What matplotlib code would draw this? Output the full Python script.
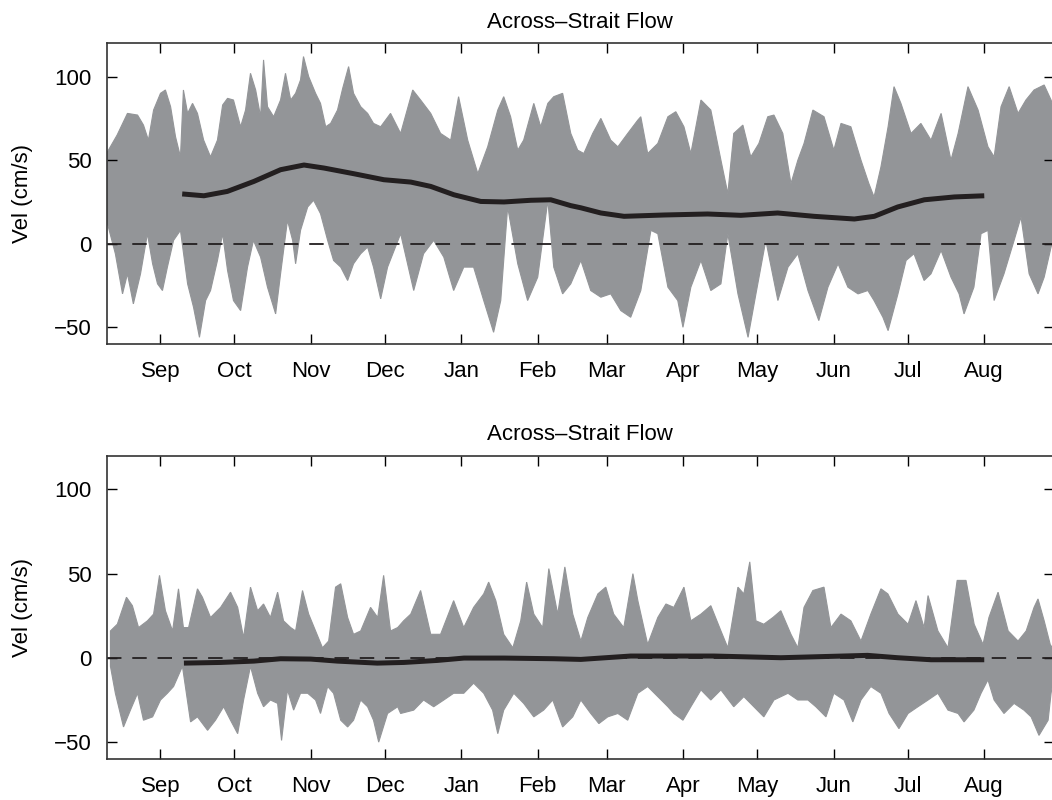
import datetime as dt
import matplotlib
matplotlib.use('Agg')
import matplotlib.pyplot as plt
import matplotlib.dates as mdates

plt.rcParams['font.family'] = ['Liberation Sans', 'DejaVu Sans']
plt.rcParams['font.size'] = 16

# days are counted from 1 Sep of the first year
start = dt.datetime(2005, 9, 1)

# upper panel: envelope of the raw record, (day, cm/s)
top_upper = [(-21.5, 55), (-17.6, 65), (-13.4, 78), (-9.3, 77), (-6.9, 71), (-4.9, 62), (-2.8, 80),
             (0, 90), (2, 92), (4.1, 82), (6.1, 64), (8.1, 52), (9.3, 92), (11, 78), (13, 84),
             (15, 78), (17.5, 62), (20.3, 52), (23.1, 62), (25.2, 83), (27.2, 87), (29.6, 86),
             (32.5, 70), (34.5, 80), (36.5, 102), (38.6, 92), (40.6, 76), (41.8, 110), (43.4, 82),
             (45.9, 76), (48.7, 86), (50.7, 102), (52.8, 86), (54.8, 90), (56.8, 98), (58, 112),
             (60.1, 100), (62.9, 90), (64.9, 84), (67, 70), (69, 72), (71.8, 80), (73.9, 93),
             (76.3, 106), (78.3, 90), (81.2, 82), (84, 78), (86.4, 72), (89.3, 70), (93.3, 78),
             (97.4, 66), (102.3, 92), (105.5, 86), (109.6, 78), (113.6, 66), (117.7, 62),
             (120.9, 88), (124.6, 62), (128.7, 42), (132.7, 58), (136.8, 80), (139.2, 88),
             (142, 76), (144.9, 56), (147.3, 62), (151.4, 84), (154.2, 70), (157.1, 84),
             (159.5, 88), (163.1, 90), (166.4, 66), (169.2, 56), (171.7, 54), (175.3, 66),
             (178.6, 75), (182.6, 62), (185.5, 58), (189.5, 66), (193.6, 74), (194.8, 76),
             (197.6, 54), (201.7, 60), (205.8, 76), (209, 79), (212.3, 70), (215.1, 54),
             (219.2, 86), (223.2, 80), (227.3, 50), (230.1, 30), (232.5, 66), (236.2, 71),
             (239.4, 52), (242.7, 60), (246.3, 76), (248.8, 77), (252.4, 66), (255.7, 36),
             (258.5, 50), (261, 60), (264.6, 80), (269.1, 76), (273.1, 56), (276, 72), (280, 70),
             (284.1, 50), (287.3, 36), (289.4, 28), (292.2, 46), (295.1, 70), (297.5, 94),
             (300.3, 84), (304.4, 66), (308.4, 72), (312.5, 62), (316.6, 78), (320.6, 50),
             (323.5, 66), (327.5, 94), (331.6, 80), (335.6, 58), (338.1, 52), (340.9, 82),
             (344.2, 94), (347.8, 78), (351, 86), (354.3, 92), (358.4, 95), (361.2, 86), (362.5, 80)]
top_lower = [(-21.5, 12), (-18.3, -6), (-15.4, -30), (-13.4, -18), (-11, -36), (-8.1, -18),
             (-5.3, 6), (-3.2, -12), (-1.2, -24), (0.8, -28), (2.8, -14), (5.3, 2), (8.1, 8),
             (11, -24), (13.4, -38), (15.8, -56), (18.3, -34), (20.3, -28), (23.1, -10), (25.2, 6),
             (27.2, -16), (29.6, -34), (32.5, -40), (35.3, -14), (37.7, 2), (40.6, -8),
             (43.4, -26), (46.7, -42), (48.7, -18), (51.5, 14), (53.6, 2), (54.8, -12), (56.8, 8),
             (59.7, 22), (62.1, 26), (64.9, 18), (67.8, 2), (70.2, -10), (73.1, -14), (75.9, -22),
             (78.3, -12), (81.2, -6), (84, -2), (86.4, -14), (89.3, -33), (92.1, -14), (97.4, 6),
             (102.7, -28), (106.7, -6), (110.8, 2), (114.9, -8), (118.9, -28), (123, -14),
             (127, -14), (131.1, -34), (135.1, -53), (138, -34), (140.8, 22), (144.9, -12),
             (148.9, -34), (153, -20), (157.1, 26), (159.5, -14), (163.1, -30), (166.4, -24),
             (170.5, -10), (174.5, -28), (178.6, -32), (182.6, -30), (186.7, -40), (190.7, -44),
             (194.8, -28), (198.9, 8), (201.7, 6), (205.8, -26), (209.8, -34), (211.9, -50),
             (215.1, -26), (219.2, -10), (223.2, -28), (227.3, -24), (230.1, 6), (234.2, -30),
             (238.3, -56), (241.5, -30), (245.5, 2), (250.4, -34), (254.5, -14), (258.5, -6),
             (262.6, -28), (267, -46), (270.7, -26), (274.8, -12), (278.8, -26), (282.9, -30),
             (286.9, -28), (289.4, -34), (293, -44), (295.1, -52), (299.1, -30), (302.4, -10),
             (305.6, -6), (309.7, -22), (312.5, -18), (316.6, -4), (320.6, -20), (323.9, -30),
             (325.9, -42), (329.9, -26), (332.8, 6), (335.6, 8), (338.1, -34), (342.1, -18),
             (346.2, 2), (349, 16), (352.3, -18), (355.9, -30), (358.4, -20), (361.2, -2), (362.5, 4)]

# upper panel: low-passed flow
top_smooth_day = [8.8, 17.6, 27.1, 37.9, 48.7, 58.2, 66.3, 78.4, 90.6, 101.5, 109.6, 119, 129.9,
                  139.3, 150.2, 158.3, 166.4, 170.5, 178.6, 188, 204.3, 221.9, 235.4, 250.3,
                  265.1, 281.4, 289.5, 299, 309.8, 322, 334.1]
top_smooth_val = [29.8, 28.7, 31.3, 37.3, 44.3, 47.1, 45.3, 41.9, 38.3, 36.9, 34.3, 29.3, 25.3,
                  25, 26, 26.3, 22.8, 21.5, 18.4, 16.4, 17.2, 17.8, 17, 18.4,
                  16.4, 14.8, 16.4, 22, 26.3, 28, 28.7]

# lower panel: envelope of the raw record, (day, cm/s)
bot_upper = [(-20.3, 16), (-17.5, 20), (-13.8, 36), (-11.4, 31), (-8.9, 18), (-5.3, 22), (-2.8, 26),
             (-0.4, 49), (2.0, 28), (4.9, 16), (7.3, 41), (9.3, 18), (11.4, 18), (15.0, 41),
             (17.0, 36), (20.3, 24), (24.4, 30), (28.4, 39), (31.3, 30), (33.7, 12), (36.5, 42),
             (39.4, 28), (41.8, 32), (44.6, 24), (47.5, 39), (49.9, 22), (52.8, 18), (54.8, 16),
             (57.6, 40), (60.1, 26), (62.9, 16), (65.7, 6), (68.2, 10), (71.0, 42), (73.1, 44),
             (75.9, 24), (78.3, 14), (81.2, 16), (85.2, 30), (88.1, 24), (90.5, 49), (93.3, 16),
             (96.2, 18), (98.6, 22), (101.5, 26), (105.5, 40), (109.6, 14), (113.6, 14),
             (118.9, 34), (123.0, 18), (127.0, 30), (131.1, 38), (133.1, 45), (136.0, 34),
             (139.2, 14), (142.9, 6), (146.1, 22), (148.5, 45), (151.4, 26), (155.0, 18),
             (157.5, 53), (161.1, 26), (164.0, 54), (167.2, 26), (170.5, 10), (173.3, 24),
             (177.4, 38), (180.6, 42), (183.8, 26), (187.9, 18), (191.6, 50), (193.6, 34),
             (197.6, 8), (201.7, 24), (205.0, 32), (208.2, 30), (212.3, 42), (215.1, 22),
             (219.2, 26), (223.2, 31), (227.3, 16), (230.1, 6), (234.2, 42), (236.6, 38),
             (239.0, 57), (241.5, 22), (244.7, 20), (248.4, 24), (251.6, 28), (255.7, 14),
             (258.5, 6), (261.0, 30), (264.6, 40), (269.1, 42), (271.9, 18), (276.0, 26),
             (280.0, 22), (284.1, 10), (288.1, 26), (292.2, 41), (295.0, 38), (299.1, 26),
             (303.2, 20), (306.4, 34), (309.7, 18), (311.3, 37), (315.3, 16), (319.4, 6),
             (323.1, 46), (326.7, 46), (330.0, 20), (333.6, 8), (336.0, 24), (339.7, 39),
             (343.8, 16), (347.8, 10), (351.1, 16), (354.3, 30), (355.9, 35), (358.4, 22),
             (361.2, 6), (362.5, 10)]
bot_lower = [(-20.3, -5), (-18.3, -21), (-15.0, -41), (-12.2, -31), (-9.3, -21), (-6.9, -37),
             (-3.2, -35), (0, -25), (2.8, -21), (5.3, -17), (8.9, -5), (12.2, -38), (15.0, -35),
             (19.1, -43), (22.3, -37), (25.6, -29), (28.4, -37), (31.3, -45), (33.7, -25),
             (36.5, -5), (39.4, -21), (41.8, -29), (44.6, -25), (47.5, -27), (49.1, -49),
             (51.5, -19), (54.0, -31), (56.8, -21), (59.7, -21), (62.9, -25), (64.9, -33),
             (67.8, -17), (70.2, -21), (73.1, -37), (75.9, -41), (78.3, -37), (81.2, -25),
             (84.0, -29), (86.4, -37), (88.5, -50), (92.1, -33), (96.2, -29), (97.4, -33),
             (102.7, -31), (106.7, -25), (110.8, -29), (114.9, -25), (118.9, -21), (123.0, -21),
             (127.0, -15), (131.1, -21), (134.7, -31), (136.8, -45), (139.2, -31), (143.3, -21),
             (147.3, -27), (151.4, -35), (155.4, -31), (159.1, -25), (163.1, -41), (167.2, -35),
             (170.5, -25), (174.5, -33), (177.8, -39), (181.4, -35), (185.5, -33), (189.5, -37),
             (193.6, -21), (197.6, -17), (201.7, -23), (205.8, -29), (208.2, -33), (211.9, -37),
             (215.1, -29), (219.2, -19), (223.2, -25), (227.3, -19), (232.5, -29), (236.6, -23),
             (244.7, -35), (248.8, -25), (254.5, -21), (258.5, -25), (262.6, -25), (265.8, -29),
             (269.9, -35), (273.1, -21), (277.2, -25), (280.8, -38), (284.1, -25), (288.1, -17),
             (292.2, -21), (295.5, -33), (299.5, -42), (303.2, -33), (307.2, -29), (311.3, -25),
             (315.3, -21), (319.4, -31), (323.5, -33), (325.9, -38), (329.9, -31), (332.8, -21),
             (335.6, -13), (338.1, -25), (342.1, -33), (346.2, -27), (350.2, -31), (353.1, -35),
             (356.3, -46), (360.0, -37), (361.2, -21), (362.5, -10)]

# lower panel: low-passed flow
bot_smooth_day = [9.5, 24.4, 37.9, 48.7, 60.9, 71.7, 87.9, 98.7, 112.3, 123.1, 139.3, 159.6,
                  170.5, 190.7, 224.5, 251.6, 286.8, 299, 312.5, 334.1]
bot_smooth_val = [-3.1, -2.7, -1.9, -0.5, -0.7, -1.9, -3.1, -2.7, -1.5, -0.1, -0.1, -0.5,
                  -0.9, 1.1, 1.1, 0.1, 1.5, 0.1, -1.1, -1.1]

title = 'Across\u2013Strait Flow'
ylab = 'Vel (cm/s)'
gray = '#939598'
dark = '#231f20'


def to_dates(days):
    return [start + dt.timedelta(days=d) for d in days]


def draw_panel(ax, upper, lower, sm_day, sm_val):
    xs = to_dates([p[0] for p in upper]) + to_dates([p[0] for p in lower])[::-1]
    ys = [p[1] for p in upper] + [p[1] for p in lower][::-1]
    ax.fill(xs, ys, color=gray, lw=0.8, zorder=1)
    ax.axhline(0, color=dark, lw=1.3, dashes=(8, 6), zorder=2)
    ax.plot(to_dates(sm_day), sm_val, color=dark, lw=3.6, solid_capstyle='butt',
            solid_joinstyle='round', zorder=3)

    ax.set_xlim(start + dt.timedelta(days=-21.7), start + dt.timedelta(days=362.3))
    ax.set_ylim(-60, 120)
    ax.set_yticks([-50, 0, 50, 100])
    ax.set_yticklabels(['\u221250', '0', '50', '100'])
    ax.xaxis.set_major_locator(mdates.MonthLocator(bymonthday=1))
    ax.xaxis.set_major_formatter(mdates.DateFormatter('%b'))
    ax.tick_params(axis='x', direction='in', top=True, length=7, width=1, pad=12)
    ax.tick_params(axis='y', direction='in', right=True, length=7, width=1, pad=11)
    for s in ax.spines.values():
        s.set_linewidth(1.2)
        s.set_color('#333333')
    ax.set_title(title, fontsize=16, pad=11)
    ax.set_ylabel(ylab, fontsize=16)
    ax.yaxis.set_label_coords(-0.078, 0.5)


fig = plt.figure(figsize=(10.52, 8), dpi=100)
ax1 = fig.add_axes([0.1017, 0.57, 0.9, 0.376])
ax2 = fig.add_axes([0.1017, 0.0513, 0.9, 0.379])

draw_panel(ax1, top_upper, top_lower, top_smooth_day, top_smooth_val)
draw_panel(ax2, bot_upper, bot_lower, bot_smooth_day, bot_smooth_val)

fig.savefig('out.png', dpi=100)
plt.close(fig)
